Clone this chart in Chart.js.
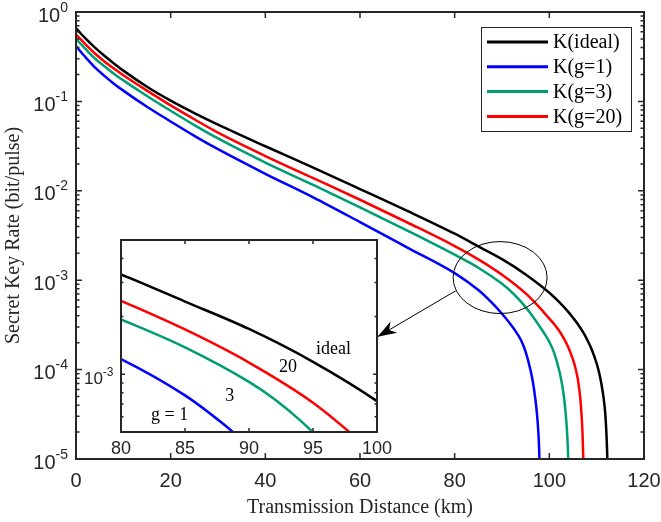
<!doctype html>
<html lang="en">
<head>
<meta charset="utf-8">
<title>Secret key rate vs transmission distance</title>
<style>
  body { margin: 0; background: #fff; }
  #wrap { position: relative; width: 661px; height: 522px; }
  #mainChart { position: absolute; left: 0; top: 0; }
  #insetChart { position: absolute; left: 80px; top: 225px; }
</style>
</head>
<body>
<div id="wrap">
  <canvas id="mainChart" width="661" height="522"></canvas>
  <canvas id="insetChart" width="320" height="245"></canvas>
</div>
<script src="https://cdn.jsdelivr.net/npm/chart.js@4.4.0/dist/chart.umd.min.js"></script>
<script>
// key rate (bit/pulse) against distance (km)
var distIdeal = [0, 1, 2, 4, 6, 8, 10, 15, 20, 25, 30, 40, 50, 60, 70, 80, 85, 90, 95, 100, 102, 104, 105, 106, 107, 108, 109, 110, 110.5, 111, 111.5, 111.8, 112.0, 112.2, 112.35];
var rateIdeal = [0.661, 0.575, 0.507, 0.400, 0.324, 0.266, 0.221, 0.146, 0.102, 0.0741, 0.0550, 0.0315, 0.0183, 0.01047, 0.00596, 0.00331, 0.00239, 0.00172, 0.00116, 0.000724, 0.000575, 0.000442, 0.00038, 0.000324, 0.000269, 0.000216, 0.000166, 0.000117, 0.0000933, 0.0000692, 0.0000468, 0.0000331, 0.0000224, 0.0000126, 0.0000063];

var distG1 = [0, 1, 2, 4, 6, 8, 10, 15, 20, 25, 30, 40, 50, 60, 70, 80, 85, 88, 90, 92, 93, 94, 95, 96, 96.5, 97, 97.4, 97.7, 97.85, 98.0];
var rateG1 = [0.417, 0.359, 0.313, 0.240, 0.193, 0.158, 0.132, 0.0871, 0.0596, 0.0412, 0.0292, 0.0155, 0.00851, 0.00447, 0.00232, 0.0012, 0.000776, 0.00055, 0.000421, 0.000312, 0.000263, 0.000214, 0.000158, 0.0001, 0.0000741, 0.000049, 0.0000316, 0.0000191, 0.0000126, 0.0000063];

var distG3 = [0, 1, 2, 4, 6, 8, 10, 15, 20, 25, 30, 40, 50, 60, 70, 80, 85, 90, 92, 94, 96, 98, 99, 100, 101, 102, 102.5, 103, 103.4, 103.7, 103.9, 104.05, 104.2];
var rateG3 = [0.501, 0.439, 0.386, 0.302, 0.247, 0.204, 0.172, 0.115, 0.0785, 0.0543, 0.0385, 0.0207, 0.01169, 0.00653, 0.00359, 0.00193, 0.00138, 0.000912, 0.000741, 0.000575, 0.000427, 0.000302, 0.000251, 0.000204, 0.000155, 0.000102, 0.0000776, 0.0000537, 0.0000347, 0.0000219, 0.0000138, 0.0000083, 0.000004];

var distG20 = [0, 1, 2, 4, 6, 8, 10, 15, 20, 25, 30, 40, 50, 60, 70, 80, 85, 90, 95, 98, 100, 101, 102, 103, 104, 105, 105.5, 106, 106.5, 106.8, 107.0, 107.15, 107.3];
var rateG20 = [0.562, 0.493, 0.435, 0.343, 0.280, 0.233, 0.196, 0.132, 0.0902, 0.0631, 0.0447, 0.0245, 0.01396, 0.00794, 0.00442, 0.00241, 0.00171, 0.00115, 0.000711, 0.00049, 0.000372, 0.000324, 0.000275, 0.000226, 0.000178, 0.000129, 0.000105, 0.0000794, 0.0000501, 0.0000316, 0.00002, 0.0000112, 0.000005];

var seriesLabels = ['K(ideal)', 'K(g=1)', 'K(g=3)', 'K(g=20)'];
var insetLabels = ['ideal', 'g = 1', '3', '20'];

var xTicks = [0, 20, 40, 60, 80, 100, 120];
var yExponents = [-5, -4, -3, -2, -1, 0];
var insetXTicks = [80, 85, 90, 95, 100];
var insetYTicks = [5e-4, 6e-4, 7e-4, 8e-4, 9e-4, 1e-3, 2e-3, 3e-3, 4e-3, 5e-3];

var colors = ['#000000', '#0000ff', '#009e73', '#ff0000'];
var axisColor = '#262626';
var sans = '"Liberation Sans", Arial, sans-serif';
var serif = '"Liberation Serif", "Times New Roman", serif';

function pts(xs, ys) {
  var out = [];
  for (var i = 0; i < xs.length; i++) out.push({x: xs[i], y: ys[i]});
  return out;
}

function makeDatasets() {
  var all = [[distIdeal, rateIdeal], [distG1, rateG1], [distG3, rateG3], [distG20, rateG20]];
  return all.map(function (s, i) {
    return {
      label: seriesLabels[i],
      data: pts(s[0], s[1]),
      borderColor: colors[i],
      borderWidth: 2.5,
      pointRadius: 0,
      cubicInterpolationMode: 'monotone',
      fill: false
    };
  });
}

// "10" with a raised exponent, right aligned at rightX
function drawPow(ctx, rightX, tickY, exp, size, supSize, baseDy, supDy) {
  var base = '10', sup = String(exp);
  ctx.font = size + 'px ' + sans;
  var wb = ctx.measureText(base).width;
  ctx.font = supSize + 'px ' + sans;
  var ws = ctx.measureText(sup).width;
  var x0 = rightX - wb - ws;
  ctx.textAlign = 'left';
  ctx.textBaseline = 'alphabetic';
  ctx.font = size + 'px ' + sans;
  ctx.fillText(base, x0, tickY + baseDy);
  ctx.font = supSize + 'px ' + sans;
  ctx.fillText(sup, x0 + wb, tickY + supDy);
}

var mainAxes = {
  id: 'mainAxes',
  afterDatasetsDraw: function (chart) {
    var ctx = chart.ctx, a = chart.chartArea;
    var xs = chart.scales.x, ys = chart.scales.y;
    ctx.save();
    ctx.strokeStyle = axisColor;
    ctx.fillStyle = axisColor;

    // ticks
    ctx.lineWidth = 1.5;
    ctx.beginPath();
    xTicks.forEach(function (v) {
      var px = xs.getPixelForValue(v);
      ctx.moveTo(px, a.bottom); ctx.lineTo(px, a.bottom - 6);
      ctx.moveTo(px, a.top); ctx.lineTo(px, a.top + 6);
    });
    yExponents.forEach(function (e) {
      var py = ys.getPixelForValue(Math.pow(10, e));
      ctx.moveTo(a.left, py); ctx.lineTo(a.left + 6, py);
      ctx.moveTo(a.right, py); ctx.lineTo(a.right - 6, py);
      if (e < 0) {
        for (var m = 2; m <= 9; m++) {
          var pm = ys.getPixelForValue(m * Math.pow(10, e));
          ctx.moveTo(a.left, pm); ctx.lineTo(a.left + 3.5, pm);
          ctx.moveTo(a.right, pm); ctx.lineTo(a.right - 3.5, pm);
        }
      }
    });
    ctx.stroke();

    // box
    ctx.lineWidth = 2;
    ctx.strokeRect(a.left, a.top, a.right - a.left, a.bottom - a.top);

    // tick labels
    ctx.font = '20px ' + sans;
    ctx.textAlign = 'center';
    ctx.textBaseline = 'alphabetic';
    xTicks.forEach(function (v) {
      ctx.fillText(String(v), xs.getPixelForValue(v), a.bottom + 27.5);
    });
    yExponents.forEach(function (e) {
      drawPow(ctx, a.left - 8, ys.getPixelForValue(Math.pow(10, e)), e, 20, 14, 9.5, -0.5);
    });

    // legend
    var lx = 481, ly = 27, lw = 150, lh = 104;
    ctx.fillStyle = '#fff';
    ctx.fillRect(lx, ly, lw, lh);
    ctx.lineWidth = 1;
    ctx.strokeStyle = axisColor;
    ctx.strokeRect(lx + 0.5, ly + 0.5, lw, lh);
    ctx.font = '20px ' + serif;
    ctx.textAlign = 'left';
    ctx.textBaseline = 'middle';
    chart.data.datasets.forEach(function (ds, i) {
      var ry = ly + 15 + i * 24.8;
      ctx.strokeStyle = ds.borderColor;
      ctx.lineWidth = 3;
      ctx.beginPath();
      ctx.moveTo(lx + 6, ry); ctx.lineTo(lx + 67, ry);
      ctx.stroke();
      ctx.fillStyle = '#000';
      ctx.fillText(ds.label, lx + 72, ry + 1);
    });

    // ellipse round the zoomed region and the arrow to the inset
    ctx.strokeStyle = '#000';
    ctx.lineWidth = 1;
    var cx = xs.getPixelForValue(89.6), cy = ys.getPixelForValue(1.07e-3);
    ctx.beginPath();
    ctx.ellipse(cx, cy, 47, 36, 0, 0, Math.PI * 2);
    ctx.stroke();
    var sx = xs.getPixelForValue(80.2), sy = ys.getPixelForValue(7.6e-4);
    var tx = xs.getPixelForValue(63.7), ty = ys.getPixelForValue(2.33e-4);
    ctx.beginPath();
    ctx.moveTo(sx, sy); ctx.lineTo(tx, ty);
    ctx.stroke();
    var dx = tx - sx, dy = ty - sy, len = Math.sqrt(dx * dx + dy * dy);
    var ux = dx / len, uy = dy / len, nx = -uy, ny = ux;
    var L = 19, W = 13;
    ctx.fillStyle = '#000';
    ctx.beginPath();
    ctx.moveTo(tx, ty);
    ctx.lineTo(tx - ux * L + nx * W / 2, ty - uy * L + ny * W / 2);
    ctx.lineTo(tx - ux * L * 0.7, ty - uy * L * 0.7);
    ctx.lineTo(tx - ux * L - nx * W / 2, ty - uy * L - ny * W / 2);
    ctx.closePath();
    ctx.fill();
    ctx.restore();
  }
};

new Chart(document.getElementById('mainChart'), {
  type: 'line',
  data: { datasets: makeDatasets() },
  options: {
    responsive: false,
    animation: false,
    layout: { padding: { top: 12, right: 17, left: 0, bottom: 0 } },
    plugins: { legend: { display: false }, tooltip: { enabled: false } },
    scales: {
      x: {
        type: 'linear', min: 0, max: 120,
        grid: { display: false }, border: { display: false }, ticks: { display: false },
        title: { display: true, text: 'Transmission Distance (km)', color: axisColor,
                 font: { family: serif, size: 20 }, padding: { top: 0, bottom: 2 } },
        afterFit: function (s) { s.height = 63; }
      },
      y: {
        type: 'logarithmic', min: 1e-5, max: 1,
        grid: { display: false }, border: { display: false }, ticks: { display: false },
        title: { display: true, text: 'Secret Key Rate (bit/pulse)', color: axisColor,
                 font: { family: serif, size: 20 }, padding: { top: 2, bottom: 0 } },
        afterFit: function (s) { s.width = 76; }
      }
    }
  },
  plugins: [mainAxes]
});

var insetAxes = {
  id: 'insetAxes',
  beforeDatasetsDraw: function (chart) {
    var a = chart.chartArea;
    chart.ctx.save();
    chart.ctx.fillStyle = '#fff';
    chart.ctx.fillRect(a.left, a.top, a.right - a.left, a.bottom - a.top);
    chart.ctx.restore();
  },
  afterDatasetsDraw: function (chart) {
    var ctx = chart.ctx, a = chart.chartArea;
    var xs = chart.scales.x, ys = chart.scales.y;
    ctx.save();
    ctx.strokeStyle = axisColor;
    ctx.fillStyle = axisColor;
    ctx.lineWidth = 1.5;
    ctx.beginPath();
    insetXTicks.forEach(function (v) {
      var px = xs.getPixelForValue(v);
      ctx.moveTo(px, a.bottom); ctx.lineTo(px, a.bottom - 4);
      ctx.moveTo(px, a.top); ctx.lineTo(px, a.top + 4);
    });
    insetYTicks.forEach(function (v) {
      var py = ys.getPixelForValue(v);
      var t = v === 1e-3 ? 4 : 2.5;
      ctx.moveTo(a.left, py); ctx.lineTo(a.left + t, py);
      ctx.moveTo(a.right, py); ctx.lineTo(a.right - t, py);
    });
    ctx.stroke();
    ctx.lineWidth = 2;
    ctx.strokeRect(a.left, a.top, a.right - a.left, a.bottom - a.top);

    ctx.font = '18px ' + sans;
    ctx.textAlign = 'center';
    ctx.textBaseline = 'alphabetic';
    insetXTicks.forEach(function (v) {
      ctx.fillText(String(v), xs.getPixelForValue(v), a.bottom + 22);
    });
    drawPow(ctx, a.left - 7.5, ys.getPixelForValue(1e-3), -3, 17, 12, 9.5, 1.5);

    // curve names inside the inset
    var spots = [[96.6, 1.35e-3], [83.8, 6.11e-4], [88.5, 7.72e-4], [93.05, 1.084e-3]];
    ctx.fillStyle = '#000';
    ctx.font = '18px ' + serif;
    ctx.textAlign = 'center';
    ctx.textBaseline = 'middle';
    spots.forEach(function (p, i) {
      ctx.fillText(insetLabels[i], xs.getPixelForValue(p[0]), ys.getPixelForValue(p[1]));
    });
    ctx.restore();
  }
};

new Chart(document.getElementById('insetChart'), {
  type: 'line',
  data: { datasets: makeDatasets() },
  options: {
    responsive: false,
    animation: false,
    layout: { padding: { top: 15, right: 23, left: 0, bottom: 0 } },
    plugins: { legend: { display: false }, tooltip: { enabled: false } },
    scales: {
      x: {
        type: 'linear', min: 80, max: 100,
        grid: { display: false }, border: { display: false }, ticks: { display: false },
        afterFit: function (s) { s.height = 38; }
      },
      y: {
        type: 'logarithmic', min: 5e-4, max: 5e-3,
        grid: { display: false }, border: { display: false }, ticks: { display: false },
        afterFit: function (s) { s.width = 41; }
      }
    }
  },
  plugins: [insetAxes]
});
</script>
</body>
</html>
